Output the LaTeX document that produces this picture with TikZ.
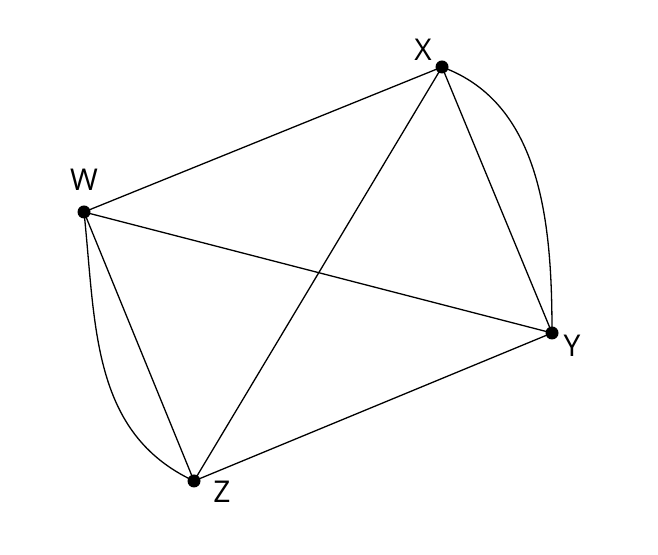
\documentclass[tikz,border=0pt]{standalone}
\usepackage{fontspec}
\setmainfont{Open Sans}
\begin{document}
\begin{tikzpicture}[x=0.5pt,y=0.5pt,
    vertex/.style={circle,fill=black,inner sep=0pt,minimum size=6.5pt},
    lbl/.style={font=\fontsize{15}{18}\selectfont},
    edge/.style={line width=0.65pt}]
    % Fix bounding box
    \useasboundingbox (0,0) rectangle (658,555);

    % Draw vertices
    \node[vertex] (X) at (442,488) {};
    \node[vertex] (W) at (84,343) {};
    \node[vertex] (Y) at (552,222) {};
    \node[vertex] (Z) at (194,74) {};

    % Label vertices
    \node[lbl] (xl) at (423,505) {X};
    \node[lbl] (wl) at (84,375) {W};
    \node[lbl] (yl) at (572,209) {Y};
    \node[lbl] (zl) at (222,63) {Z};

    % Draw straight edges
    \draw[edge] (X.center) -- (W.center);
    \draw[edge] (X.center) -- (Y.center);
    \draw[edge] (X.center) -- (Z.center);
    \draw[edge] (W.center) -- (Y.center);
    \draw[edge] (W.center) -- (Z.center);
    \draw[edge] (Y.center) -- (Z.center);

    % Draw curved edges
    \draw[edge] (X.center) to[out=-20,in=90,looseness=0.95] (Y.center);
    \draw[edge] (W.center) to[out=-84,in=155] (Z.center);
\end{tikzpicture}
\end{document}
